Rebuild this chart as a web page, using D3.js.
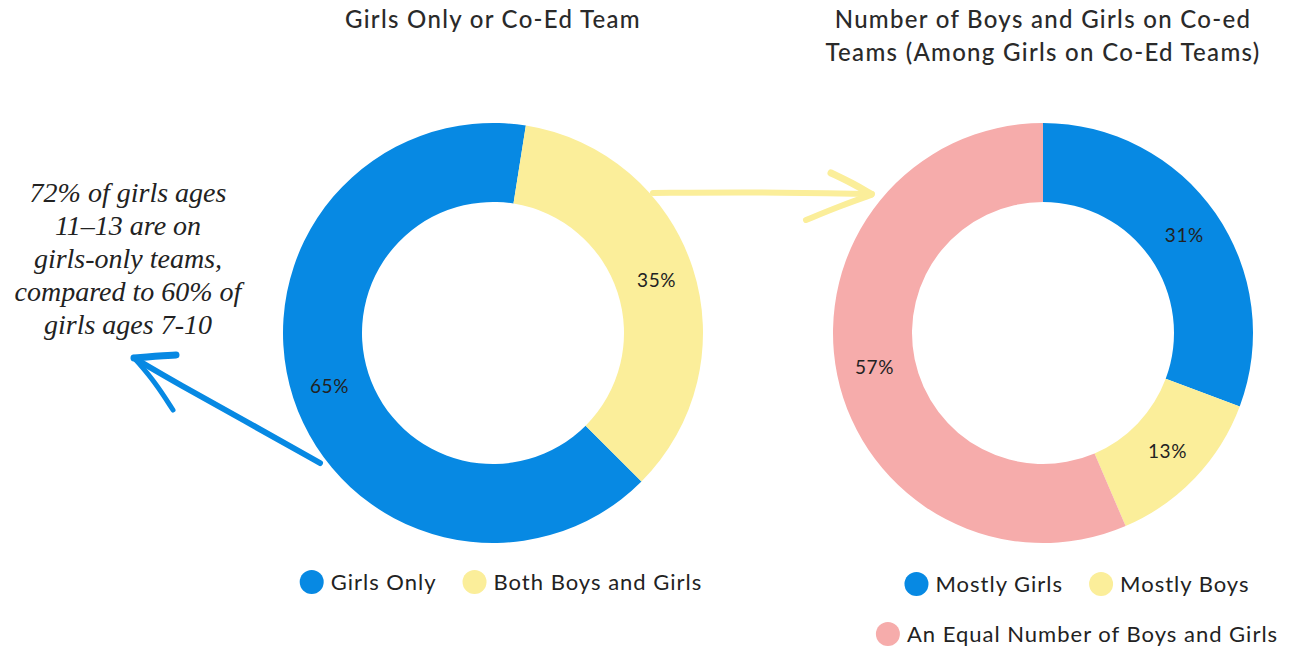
<!DOCTYPE html>
<html>
<head>
<meta charset="utf-8">
<script src="https://cdn.jsdelivr.net/npm/d3@7"></script>
<style>
  body { margin: 0; background: #fff; }
  text { font-family: Lato, "Noto Sans", sans-serif; fill: #222; }
</style>
</head>
<body>
<script>
// data
var leftTitle = ["Girls Only or Co-Ed Team"];
var leftCategories = ["Girls Only", "Both Boys and Girls"];
var leftValues = [65, 35];

var rightTitle = ["Number of Boys and Girls on Co-ed", "Teams (Among Girls on Co-Ed Teams)"];
var rightCategories = ["Mostly Girls", "Mostly Boys", "An Equal Number of Boys and Girls"];
var rightValues = [31, 13, 57];

var note = ["72% of girls ages", "11\u201313 are on", "girls-only teams,", "compared to 60% of", "girls ages 7-10"];

var w = 1302;
var h = 650;
var outerR = 210;
var innerR = 131;
var blue = "#0789e3", yellow = "#fbee9a", pink = "#f6acab";

var svg = d3.select("body").append("svg").attr("width", w).attr("height", h);

function donut(cx, cy, cats, vals, colors, start, title, legendX, legendY, legendW) {
    var g = svg.append("g").attr("transform", "translate(" + cx + "," + cy + ")");
    var pie = d3.pie().sort(null).startAngle(start).endAngle(start + 2 * Math.PI);
    var arcs = pie(vals);
    var arc = d3.arc().innerRadius(innerR).outerRadius(outerR);
    var labelArc = d3.arc().innerRadius(172).outerRadius(172);
    var color = d3.scaleOrdinal().domain(cats).range(colors);

    g.selectAll(".slice").data(arcs).enter().append("path")
        .attr("class", "slice")
        .attr("d", arc)
        .attr("fill", (d, i) => color(cats[i]));

    g.selectAll(".lbl").data(arcs).enter().append("text")
        .attr("class", "lbl")
        .attr("transform", d => "translate(" + labelArc.centroid(d) + ")")
        .attr("text-anchor", "middle")
        .attr("dy", "0.35em")
        .attr("font-size", 19)
        .attr("letter-spacing", 0.6)
        .text(d => d.data + "%");

    // title
    svg.selectAll(null).data(title).enter().append("text")
        .attr("x", cx).attr("y", (d, i) => 28 + i * 33)
        .attr("text-anchor", "middle")
        .attr("font-size", 24)
        .attr("letter-spacing", 1.3)
        .attr("font-weight", 500)
        .style("fill", "#2a2a2a")
        .text(d => d);

    // legend, flowing items with wrap
    var lg = svg.append("g");
    var items = lg.selectAll(".item").data(cats).enter().append("g").attr("class", "item");
    items.append("circle").attr("r", 12).attr("cx", 12).attr("cy", 0).attr("fill", d => color(d));
    items.append("text").attr("x", 31).attr("y", 0).attr("dy", "0.35em")
        .attr("font-size", 22).attr("letter-spacing", 1).text(d => d);

    var rows = [[]], rowW = [0];
    items.each(function (d) {
        var iw = 31 + this.querySelector("text").getComputedTextLength();
        var r = rows.length - 1;
        var add = rows[r].length ? 26 + iw : iw;
        if (rowW[r] + add > legendW && rows[r].length) {
            rows.push([]); rowW.push(0); r++; add = iw;
        }
        rows[r].push({ node: this, w: iw });
        rowW[r] += add;
    });
    rows.forEach(function (row, ri) {
        var x = legendX - rowW[ri] / 2;
        row.forEach(function (it) {
            d3.select(it.node).attr("transform", "translate(" + x + "," + (legendY + ri * 50) + ")");
            x += it.w + 26;
        });
    });
}

donut(493, 333, leftCategories, leftValues, [blue, yellow], Math.PI * 3 / 4, leftTitle, 501, 582, 460);
donut(1043, 333, rightCategories, rightValues, [blue, yellow, pink], 0, rightTitle, 1077, 584, 420);

// annotation text
svg.selectAll(".note").data(note).enter().append("text")
    .attr("class", "note")
    .attr("x", 128).attr("y", (d, i) => 202 + i * 33)
    .attr("text-anchor", "middle")
    .attr("font-size", 28)
    .style("font-family", "'Liberation Serif', serif")
    .style("font-style", "italic")
    .style("fill", "#222")
    .text(d => d);

// hand drawn arrows
var line = d3.line().curve(d3.curveBasis);
svg.append("path")
    .attr("d", line([[320, 463], [240, 418], [180, 385], [134, 358]]))
    .attr("fill", "none").attr("stroke", blue).attr("stroke-width", 6).attr("stroke-linecap", "round");
svg.append("path")
    .attr("d", line([[134, 358], [155, 356], [176, 355]]))
    .attr("fill", "none").attr("stroke", blue).attr("stroke-width", 7).attr("stroke-linecap", "round");
svg.append("path")
    .attr("d", line([[136, 360], [155, 382], [173, 410]]))
    .attr("fill", "none").attr("stroke", blue).attr("stroke-width", 5).attr("stroke-linecap", "round");

svg.append("path")
    .attr("d", line([[653, 193], [760, 192], [872, 194]]))
    .attr("fill", "none").attr("stroke", yellow).attr("stroke-width", 6).attr("stroke-linecap", "round");
svg.append("path")
    .attr("d", line([[831, 173], [852, 183], [871, 194]]))
    .attr("fill", "none").attr("stroke", yellow).attr("stroke-width", 7).attr("stroke-linecap", "round");
svg.append("path")
    .attr("d", line([[871, 195], [840, 206], [806, 220]]))
    .attr("fill", "none").attr("stroke", yellow).attr("stroke-width", 6).attr("stroke-linecap", "round");
</script>
</body>
</html>
